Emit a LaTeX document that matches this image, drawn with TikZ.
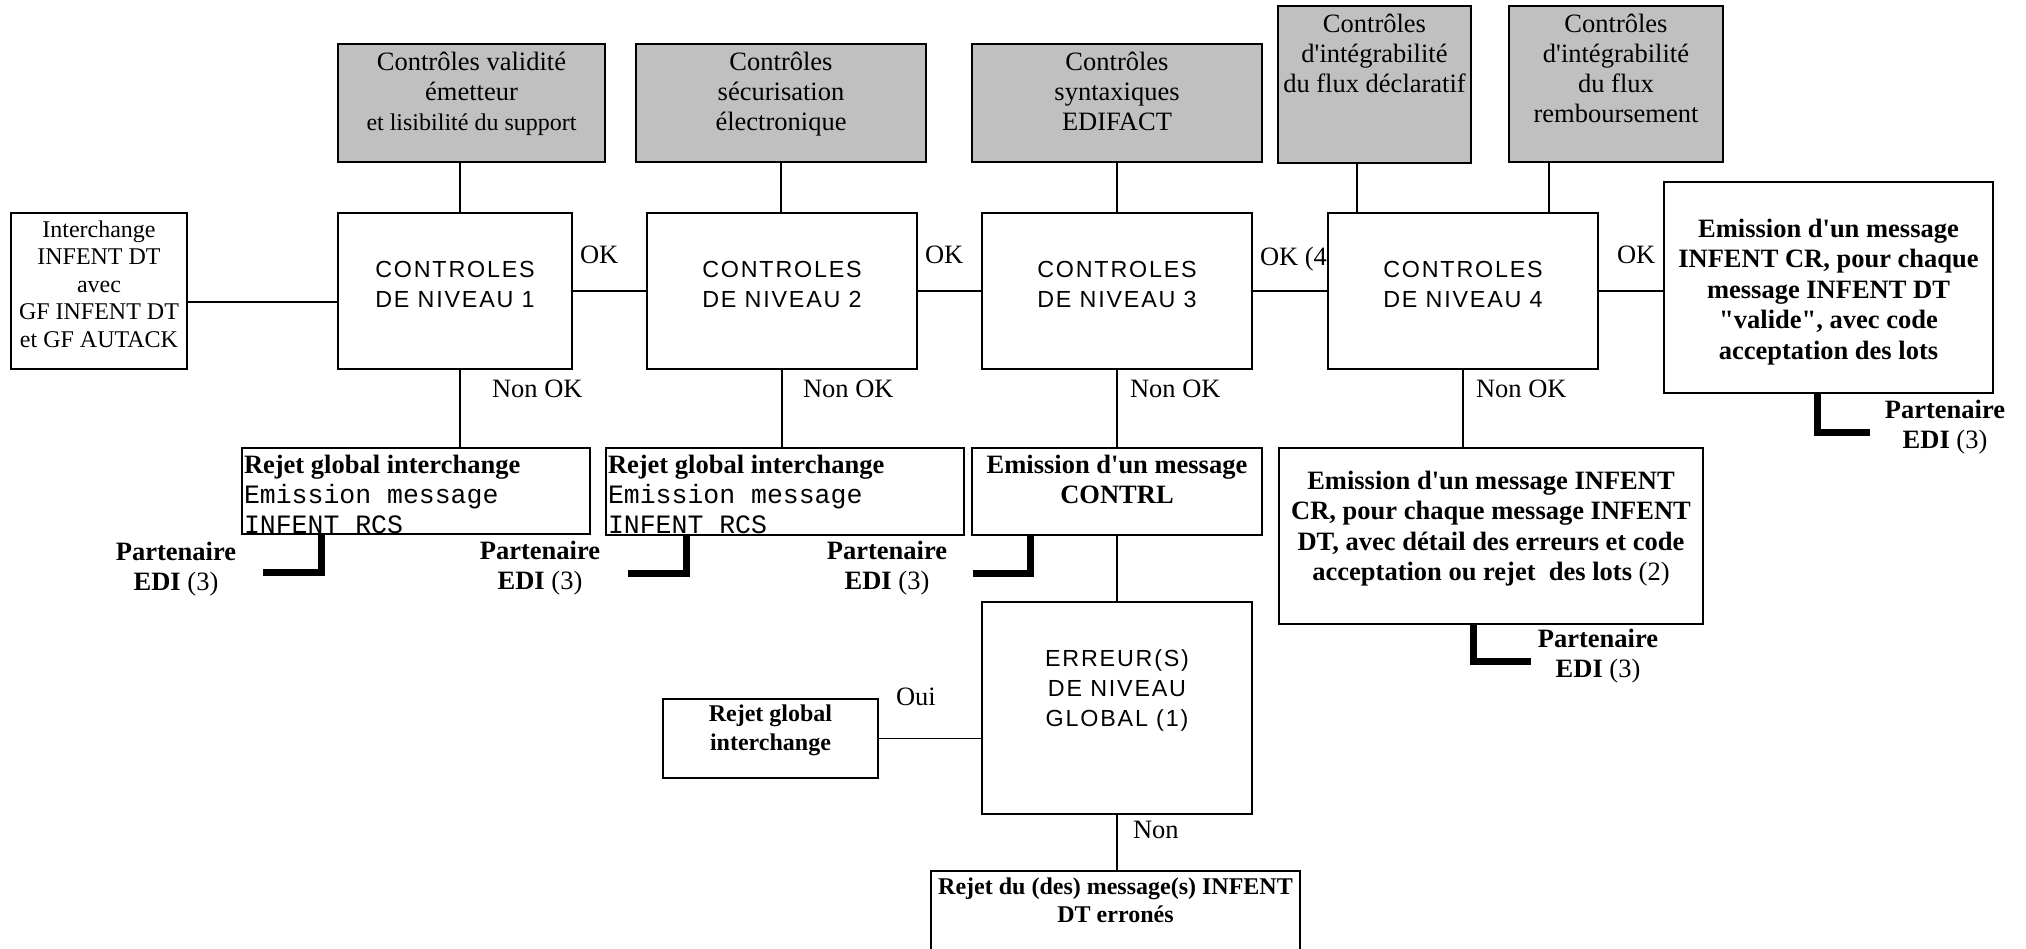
\documentclass[tikz,border=0pt]{standalone}
\usepackage{fontspec}
\setmainfont{Liberation Serif}
\setmonofont{Liberation Mono}
\newfontfamily\cnfont[LetterSpace=7.7]{Liberation Sans}
\definecolor{grayfill}{RGB}{192,192,192}
\newcommand\apos{\textquotesingle}
\newcommand\dquo{\textquotedbl}
\begin{document}
\begin{tikzpicture}[x=1pt,y=-1pt,
  box/.style={draw, line width=2.2pt, fill=white, inner sep=0pt, outer sep=0pt},
  graybox/.style={box, fill=grayfill},
  conn/.style={line width=1.6pt},
  edi/.style={line width=7pt},
  txt/.style={inner sep=0pt, outer sep=0pt, align=center, anchor=north, font=\fontsize{26.5}{30}\selectfont},
  btxt/.style={txt, font=\fontsize{26.5}{30.5}\selectfont\bfseries},
  sbtxt/.style={txt, font=\fontsize{24}{28.5}\selectfont\bfseries},
  cntxt/.style={txt, font=\cnfont\fontsize{23.3}{30}\selectfont},
  lbl/.style={inner sep=0pt, outer sep=0pt, anchor=base west, font=\fontsize{26.5}{30}\selectfont},
  cnbox/.style={box, minimum width=270pt, minimum height=156pt},
]
\useasboundingbox[fill=white] (0,0) rectangle (2026,948);

% boxes
\node[graybox, minimum width=267pt, minimum height=118pt] (g1) at (471.5,103) {};
\node[graybox, minimum width=290pt, minimum height=118pt] (g2) at (781,103) {};
\node[graybox, minimum width=290pt, minimum height=118pt] (g3) at (1117,103) {};
\node[graybox, minimum width=193pt, minimum height=157pt] (g4) at (1374.5,84.5) {};
\node[graybox, minimum width=214pt, minimum height=156pt] (g5) at (1616,84) {};
\node[box, minimum width=176pt, minimum height=156pt] (inter) at (99,291) {};
\node[cnbox, minimum width=234pt] (cn1) at (455,291) {};
\node[cnbox] (cn2) at (782,291) {};
\node[cnbox] (cn3) at (1117,291) {};
\node[cnbox] (cn4) at (1463,291) {};
\node[box, minimum width=329pt, minimum height=211pt] (emok) at (1828.5,287.5) {};
\node[box, minimum width=348pt, minimum height=86pt] (rej1) at (416,491) {};
\node[box, minimum width=358pt, minimum height=87pt] (rej2) at (785,491.5) {};
\node[box, minimum width=290pt, minimum height=87pt] (contrl) at (1117,491.5) {};
\node[box, minimum width=424pt, minimum height=176pt] (emcr) at (1491,536) {};
\node[box, minimum width=270pt, minimum height=212pt] (err) at (1117,708) {};
\node[box, minimum width=215pt, minimum height=79pt] (rejg) at (770.5,738.5) {};
\node[box, minimum width=369pt, minimum height=100pt] (rejdu) at (1115.5,921) {};

% helper coordinates
\coordinate (k1) at (460,0);
\coordinate (k4) at (1357,0);
\coordinate (k5) at (1549,0);
\coordinate (hI) at (0,302);

% connectors
\draw[conn] (g1.south -| k1) -- (cn1.north -| k1);
\draw[conn] (g2.south) -- (g2.south |- cn2.north);
\draw[conn] (g3.south) -- (cn3.north);
\draw[conn] (g4.south -| k4) -- (cn4.north -| k4);
\draw[conn] (g5.south -| k5) -- (cn4.north -| k5);
\draw[conn] (inter.east |- hI) -- (cn1.west |- hI);
\draw[conn] (cn1.east) -- (cn2.west);
\draw[conn] (cn2.east) -- (cn3.west);
\draw[conn] (cn3.east) -- (cn4.west);
\draw[conn] (cn4.east) -- (emok.west |- cn4.east);
\draw[conn] (cn1.south -| k1) -- (rej1.north -| k1);
\draw[conn] (cn2.south) -- (rej2.north -| cn2.south);
\draw[conn] (cn3.south) -- (contrl.north);
\draw[conn] (cn4.south) -- (cn4.south |- emcr.north);
\draw[conn] (contrl.south) -- (err.north);
\draw[conn] (err.south) -- (err.south |- rejdu.north);
\draw[conn] (rejg.east) -- (err.west |- rejg.east);

% thick partner connectors
\coordinate (e1) at (263,572);  \coordinate (v1) at (321,0);
\coordinate (e2) at (628,573);  \coordinate (v2) at (686,0);
\coordinate (e3) at (973,573);  \coordinate (v3) at (1030,0);
\coordinate (e4) at (1870,432); \coordinate (v4) at (1817,0);
\coordinate (e5) at (1531,661); \coordinate (v5) at (1473,0);
\draw[edi] (e1) -| (v1 |- rej1.south);
\draw[edi] (e2) -| (v2 |- rej2.south);
\draw[edi] (e3) -| (v3 |- contrl.south);
\draw[edi] (e4) -| (v4 |- emok.south);
\draw[edi] (e5) -| (v5 |- emcr.south);

% texts
\node[txt] (g1t) at (471.5,52) {Contrôles validité\\émetteur\\{\fontsize{24}{28}\selectfont et lisibilité du support}};
\node[txt] (g2t) at (781,52) {Contrôles\\sécurisation\\électronique};
\node[txt] (g3t) at (1117,52) {Contrôles\\syntaxiques\\EDIFACT};
\node[txt] (g4t) at (1374.5,14) {Contrôles\\d\apos intégrabilité\\du flux déclaratif};
\node[txt] (g5t) at (1616,14) {Contrôles\\d\apos intégrabilité\\du flux\\remboursement};
\node[txt, font=\fontsize{24}{27.5}\selectfont] (intert) at (99,220.5) {Interchange\\INFENT DT\\avec\\GF INFENT DT\\et GF AUTACK};
\node[cntxt] (cn1t) at (455,261) {CONTROLES\\DE NIVEAU 1};
\node[cntxt] (cn2t) at (782,261) {CONTROLES\\DE NIVEAU 2};
\node[cntxt] (cn3t) at (1117,261) {CONTROLES\\DE NIVEAU 3};
\node[cntxt] (cn4t) at (1463,261) {CONTROLES\\DE NIVEAU 4};
\node[cntxt] (errt) at (1117,650) {ERREUR(S)\\DE NIVEAU\\GLOBAL (1)};
\node[btxt] (emokt) at (1828.5,219) {Emission d\apos un message\\INFENT CR, pour chaque\\message INFENT DT\\\dquo valide\dquo, avec code\\acceptation des lots};
\node[txt, anchor=north west, align=left] (rej1t) at (244,455) {\textbf{Rejet global interchange}\\\texttt{Emission message}\\\texttt{INFENT RCS}};
\node[txt, anchor=north west, align=left] (rej2t) at (608,455) {\textbf{Rejet global interchange}\\\texttt{Emission message}\\\texttt{INFENT RCS}};
\node[btxt] (contrlt) at (1117,455) {Emission d\apos un message\\CONTRL};
\node[btxt] (emcrt) at (1491,471) {Emission d\apos un message INFENT\\CR, pour chaque message INFENT\\DT, avec détail des erreurs et code\\acceptation ou rejet\ \ des lots \textmd{(2)}};
\node[sbtxt] (rejgt) at (770.5,705) {Rejet global\\interchange};
\node[sbtxt] (rejdut) at (1115.5,877.5) {Rejet du (des) message(s) INFENT\\DT erronés};

% partner labels
\node[txt] (p1) at (176,542) {\textbf{Partenaire}\\\textbf{EDI} (3)};
\node[txt] (p2) at (540,541) {\textbf{Partenaire}\\\textbf{EDI} (3)};
\node[txt] (p3) at (887,541) {\textbf{Partenaire}\\\textbf{EDI} (3)};
\node[txt] (p4) at (1945,400) {\textbf{Partenaire}\\\textbf{EDI} (3)};
\node[txt] (p5) at (1598,629) {\textbf{Partenaire}\\\textbf{EDI} (3)};

% connector labels
\node[lbl] (ok1) at (580,263) {OK};
\node[lbl] (ok2) at (925,263) {OK};
\node[lbl] (ok3) at (1260,265) {OK (4};
\node[lbl] (ok4) at (1617,263) {OK};
\node[lbl] (nok1) at (492,397) {Non OK};
\node[lbl] (nok2) at (803,397) {Non OK};
\node[lbl] (nok3) at (1130,397) {Non OK};
\node[lbl] (nok4) at (1476,397) {Non OK};
\node[lbl] (oui) at (896,705) {Oui};
\node[lbl] (non) at (1133,838) {Non};
\end{tikzpicture}
\end{document}
